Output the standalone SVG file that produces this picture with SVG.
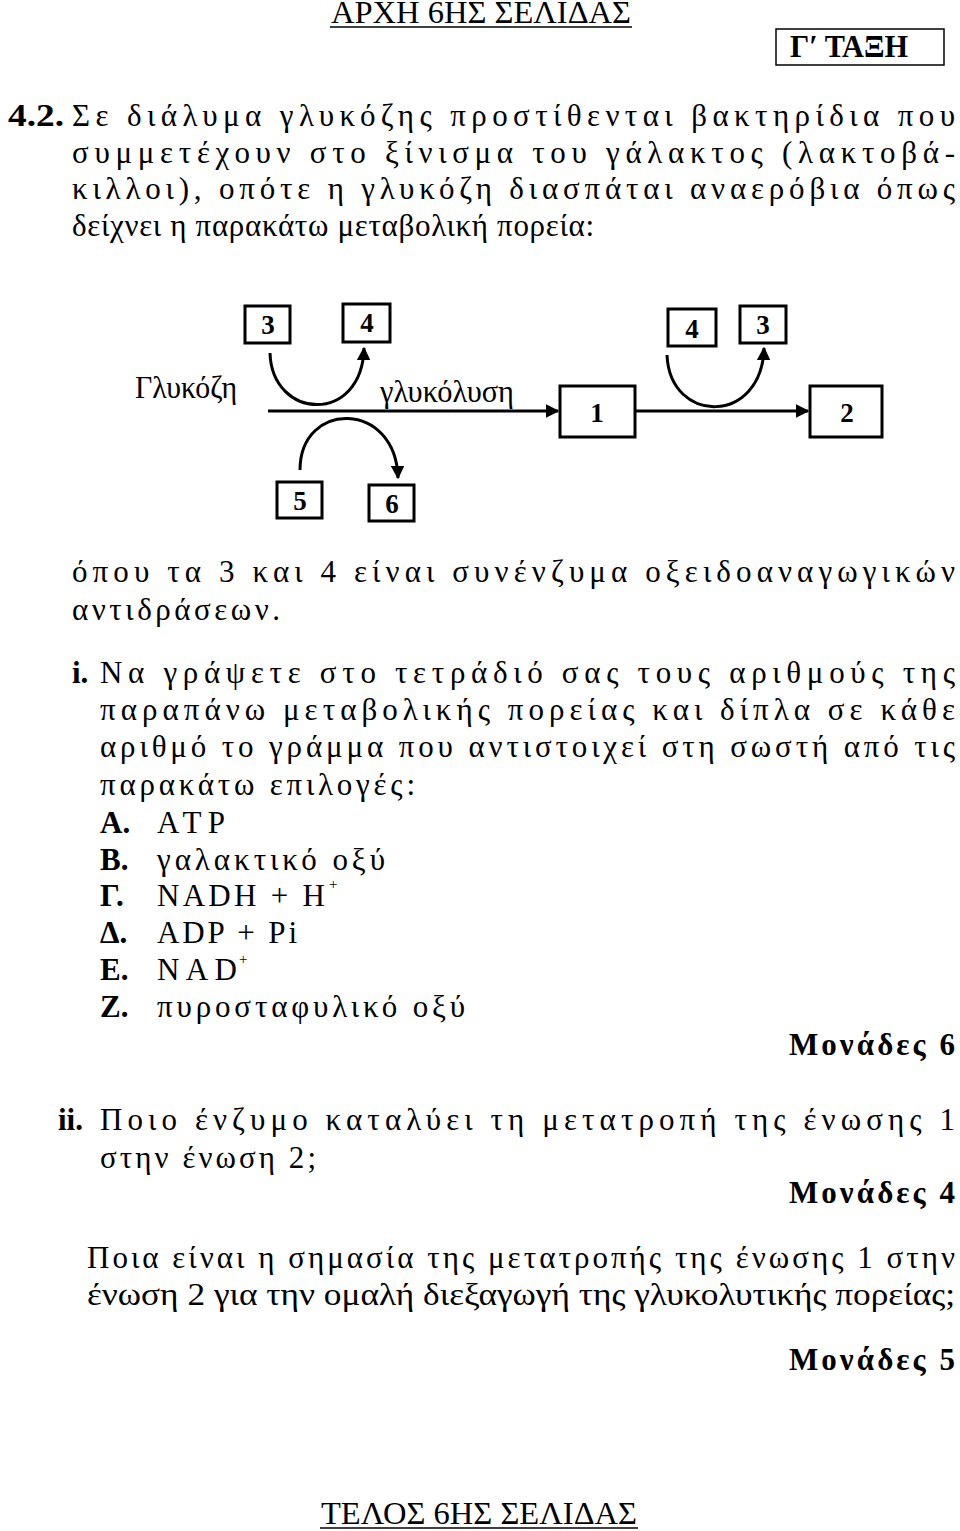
<svg xmlns="http://www.w3.org/2000/svg" width="960" height="1531" viewBox="0 0 960 1531">
<style>
text{font-family:"Liberation Serif","DejaVu Serif",serif;fill:#000}
.t{font-size:31px}
.b{font-weight:bold}
.box{fill:#fff;stroke:#000;stroke-width:3}
.n{font-family:"Liberation Serif",serif;font-weight:bold;font-size:27px;text-anchor:middle}
.c{fill:none;stroke:#000;stroke-width:3}
.sup{font-size:15px}
</style>
<defs><marker id="a" viewBox="0 0 10 10" refX="9" refY="5" markerWidth="4.5" markerHeight="4.5" orient="auto" markerUnits="strokeWidth"><path d="M0,0L10,5L0,10z"/></marker></defs>
<rect width="960" height="1531" fill="#fff"/>
<text x="481" y="23" class="t" text-anchor="middle" font-size="24" textLength="300" lengthAdjust="spacingAndGlyphs">ΑΡΧΗ 6ΗΣ ΣΕΛΙΔΑΣ</text>
<line x1="330" y1="27" x2="632" y2="27" stroke="#000" stroke-width="1.5"/>
<rect x="776" y="29" width="168" height="36" fill="#fff" stroke="#000" stroke-width="1.5"/>
<text x="790" y="57" class="t b" font-size="27" textLength="118" lengthAdjust="spacingAndGlyphs">Γ′ ΤΑΞΗ</text>
<text x="8" y="126" class="t b" textLength="56" lengthAdjust="spacingAndGlyphs">4.2.</text>
<text x="72" y="126" class="t" textLength="883" lengthAdjust="spacing">Σε διάλυμα γλυκόζης προστίθενται βακτηρίδια που</text>
<text x="72" y="163" class="t" textLength="883" lengthAdjust="spacing">συμμετέχουν στο ξίνισμα του γάλακτος (λακτοβά-</text>
<text x="72" y="199" class="t" textLength="883" lengthAdjust="spacing">κιλλοι), οπότε η γλυκόζη διασπάται αναερόβια όπως</text>
<text x="72" y="236" class="t" textLength="522" lengthAdjust="spacing">δείχνει η παρακάτω μεταβολική πορεία:</text>

<g id="connectors">
<line x1="268" y1="411" x2="558" y2="411" class="c" marker-end="url(#a)"/>
<line x1="635" y1="411" x2="808" y2="411" class="c" marker-end="url(#a)"/>
<path d="M270,353 C272,420 362,425 364,348" class="c" marker-end="url(#a)"/>
<path d="M300,470 C300,400 396,400 398,478" class="c" marker-end="url(#a)"/>
<path d="M667,355 C670,425 762,425 764,348" class="c" marker-end="url(#a)"/>
</g>
<text x="135" y="398" class="t" font-size="27" textLength="102" lengthAdjust="spacingAndGlyphs">Γλυκόζη</text>
<text x="380" y="402" class="t" font-size="27" textLength="134" lengthAdjust="spacingAndGlyphs">γλυκόλυση</text>
<g id="n3a"><rect x="245" y="306" width="45" height="37" class="box"/><text x="268" y="334" class="n">3</text></g>
<g id="n4a"><rect x="343" y="304" width="47" height="38" class="box"/><text x="367" y="332" class="n">4</text></g>
<g id="n4b"><rect x="668" y="309" width="48" height="37" class="box"/><text x="692" y="338" class="n">4</text></g>
<g id="n3b"><rect x="740" y="306" width="46" height="37" class="box"/><text x="763" y="334" class="n">3</text></g>
<g id="n1"><rect x="560" y="386" width="75" height="51" class="box"/><text x="597" y="422" class="n" font-size="30">1</text></g>
<g id="n2"><rect x="810" y="386" width="72" height="51" class="box"/><text x="847" y="422" class="n" font-size="30">2</text></g>
<g id="n5"><rect x="277" y="482" width="45" height="36" class="box"/><text x="300" y="510" class="n">5</text></g>
<g id="n6"><rect x="369" y="485" width="45" height="36" class="box"/><text x="392" y="513" class="n">6</text></g>

<text x="72" y="582" class="t" textLength="883" lengthAdjust="spacing">όπου τα 3 και 4 είναι συνένζυμα οξειδοαναγωγικών</text>
<text x="72" y="620" class="t" textLength="208" lengthAdjust="spacing">αντιδράσεων.</text>
<text x="72" y="683" class="t b">i.</text>
<text x="100" y="683" class="t" textLength="855" lengthAdjust="spacing">Να γράψετε στο τετράδιό σας τους αριθμούς της</text>
<text x="100" y="720" class="t" textLength="855" lengthAdjust="spacing">παραπάνω μεταβολικής πορείας και δίπλα σε κάθε</text>
<text x="100" y="757" class="t" textLength="855" lengthAdjust="spacing">αριθμό το γράμμα που αντιστοιχεί στη σωστή από τις</text>
<text x="100" y="795" class="t" textLength="315" lengthAdjust="spacing">παρακάτω επιλογές:</text>
<text x="100" y="833" class="t b">Α.</text><text x="157" y="833" class="t" textLength="68" lengthAdjust="spacing">ATP</text>
<text x="100" y="870" class="t b">Β.</text><text x="157" y="870" class="t" textLength="228" lengthAdjust="spacing">γαλακτικό οξύ</text>
<text x="100" y="906" class="t b">Γ.</text><text x="157" y="906" class="t" textLength="168" lengthAdjust="spacing">NADH + H</text><text x="329" y="889" class="sup">+</text>
<text x="100" y="943" class="t b">Δ.</text><text x="157" y="943" class="t" textLength="140" lengthAdjust="spacing">ADP + Pi</text>
<text x="100" y="980" class="t b">Ε.</text><text x="157" y="980" class="t" textLength="80" lengthAdjust="spacing">NAD</text><text x="239" y="964" class="sup">+</text>
<text x="100" y="1017" class="t b">Ζ.</text><text x="157" y="1017" class="t" textLength="308" lengthAdjust="spacing">πυροσταφυλικό οξύ</text>
<text x="955" y="1055" class="t b" text-anchor="end" textLength="166" lengthAdjust="spacing">Μονάδες 6</text>
<text x="58" y="1130" class="t b">ii.</text>
<text x="100" y="1130" class="t" textLength="855" lengthAdjust="spacing">Ποιο ένζυμο καταλύει τη μετατροπή της ένωσης 1</text>
<text x="100" y="1168" class="t" textLength="216" lengthAdjust="spacing">στην ένωση 2;</text>
<text x="955" y="1203" class="t b" text-anchor="end" textLength="166" lengthAdjust="spacing">Μονάδες 4</text>
<text x="87" y="1268" class="t" textLength="868" lengthAdjust="spacing">Ποια είναι η σημασία της μετατροπής της ένωσης 1 στην</text>
<text x="87" y="1305" class="t" textLength="868" lengthAdjust="spacingAndGlyphs">ένωση 2 για την ομαλή διεξαγωγή της γλυκολυτικής πορείας;</text>
<text x="955" y="1370" class="t b" text-anchor="end" textLength="166" lengthAdjust="spacing">Μονάδες 5</text>
<text x="479" y="1524" class="t" text-anchor="middle" font-size="26" textLength="316" lengthAdjust="spacingAndGlyphs">ΤΕΛΟΣ 6ΗΣ ΣΕΛΙΔΑΣ</text>
<line x1="320" y1="1528" x2="638" y2="1528" stroke="#000" stroke-width="1.5"/>
</svg>
